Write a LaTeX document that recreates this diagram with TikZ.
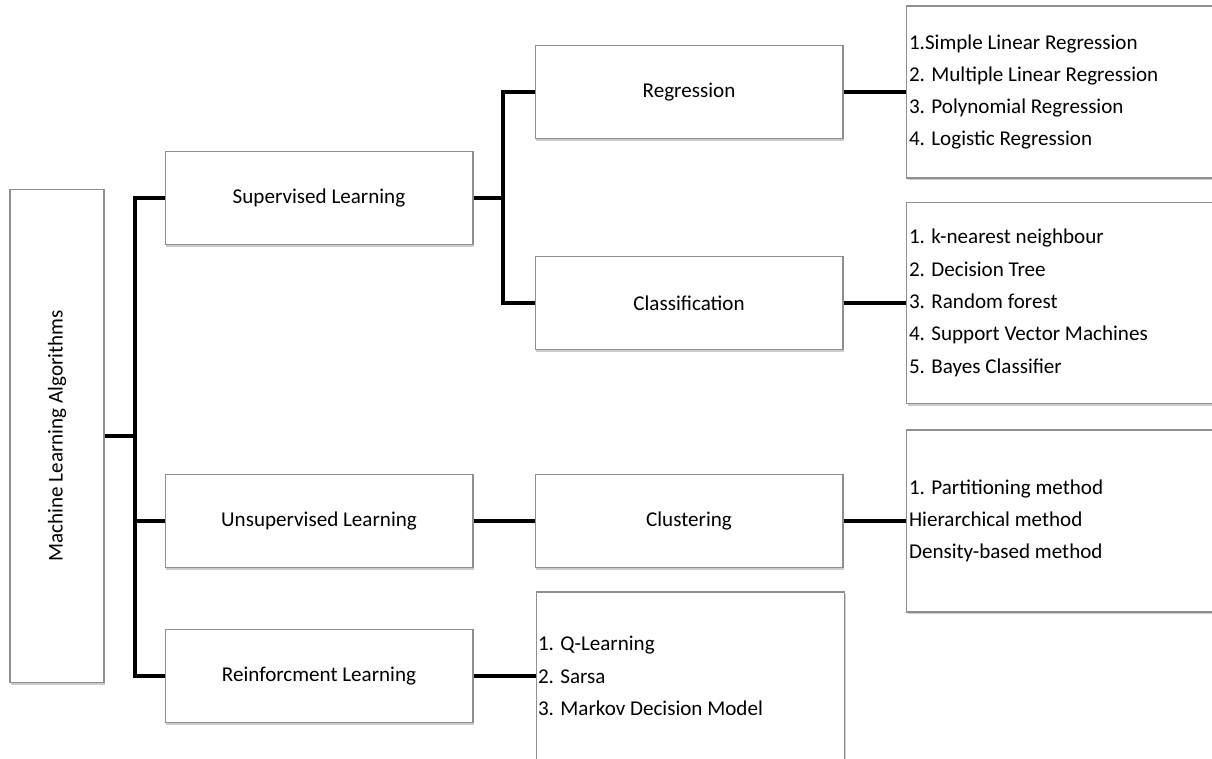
\documentclass[tikz,border=0pt]{standalone}
\usepackage{fontspec}
\setmainfont{Carlito}
\usepackage{tikz}
\usetikzlibrary{shadows, calc}
\definecolor{colorB}{HTML}{8F8F8F}
\definecolor{colorS}{HTML}{9A9A9A}

\tikzset{
    box/.style={draw=colorB, line width=0.6pt, fill=white, inner sep=0pt,
        drop shadow={shadow xshift=0.6pt, shadow yshift=-1.4pt, fill=colorS, opacity=0.5},
        minimum width=6.16cm, minimum height=1.86cm, align=center},
    listbox/.style={box, anchor=west, align=flush left, inner xsep=0.6pt},
    link/.style={line width=2.4pt, black}
}

\begin{document}
\begin{tikzpicture}[x=0.02cm, y=-0.02cm, font=\fontsize{12}{18.4}\selectfont]
        \clip (0,0) rectangle (1212,759);
        \fill[white] (0,0) rectangle (1212,759);
        \node[box, rotate=90, minimum width=9.88cm, minimum height=1.88cm] (root) at (57,436) {Machine Learning Algorithms};
        \node[box] (sup) at (319,198) {Supervised Learning};
        \node[box] (unsup) at (319,521) {Unsupervised Learning};
        \node[box] (rein) at (319,676) {Reinforcment Learning};
        \node[box] (reg) at (689,92) {Regression};
        \node[box] (cls) at (689,303) {Classification};
        \node[box] (clu) at (689,521) {Clustering};
        \node[listbox, minimum width=6.4cm, text width=6.3cm, minimum height=3.44cm] (reglist) at (906,92)
            {1.Simple Linear Regression\\2. Multiple Linear Regression\\3. Polynomial Regression\\4. Logistic Regression};
        \node[listbox, minimum width=6.4cm, text width=6.3cm, minimum height=4.02cm] (clslist) at (906,303)
            {1. k-nearest neighbour\\2. Decision Tree\\3. Random forest\\4. Support Vector Machines\\5. Bayes Classifier};
        \node[listbox, minimum width=6.4cm, text width=6.3cm, minimum height=3.64cm] (clulist) at (906,521)
            {1. Partitioning method\\Hierarchical method\\Density-based method};
        \node[listbox, minimum width=6.16cm, text width=6.1cm, minimum height=3.36cm] (reinlist) at (536,676)
            {1. Q-Learning\\2. Sarsa\\3. Markov Decision Model};
        % tree links
        \coordinate (trunk) at (135,436);
        \coordinate (split) at (503,198);
        \draw[link] (root.south) -- (trunk);
        \draw[link] (sup.west) -| (trunk) |- (rein.west);
        \draw[link] (unsup.west) -- (unsup.west -| trunk);
        \draw[link] (sup.east) -- (split);
        \draw[link] (reg.west) -| (split) |- (cls.west);
        \draw[link] (unsup.east) -- (clu.west);
        \draw[link] (reg.east) -- (reglist.west);
        \draw[link] (cls.east) -- (clslist.west);
        \draw[link] (clu.east) -- (clulist.west);
        \draw[link] (rein.east) -- (reinlist.west);
    \end{tikzpicture}
\end{document}
